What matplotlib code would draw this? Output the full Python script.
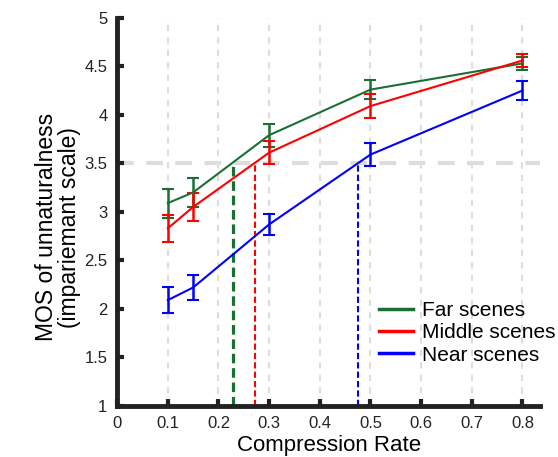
import matplotlib
matplotlib.use("Agg")
import matplotlib.pyplot as plt

plt.rcParams['font.family'] = ['Liberation Sans', 'DejaVu Sans']

x = [0.1, 0.15, 0.3, 0.5, 0.8]
far = [3.09, 3.20, 3.79, 4.26, 4.53]
far_err = [0.15, 0.15, 0.12, 0.10, 0.07]
middle = [2.83, 3.05, 3.61, 4.09, 4.56]
middle_err = [0.14, 0.14, 0.12, 0.12, 0.07]
near = [2.09, 2.22, 2.87, 3.59, 4.25]
near_err = [0.13, 0.13, 0.11, 0.12, 0.10]
thresholds = {'far': 0.228, 'middle': 0.272, 'near': 0.475}
xticks = [0, 0.1, 0.2, 0.3, 0.4, 0.5, 0.6, 0.7, 0.8]
yticks = [1, 1.5, 2, 2.5, 3, 3.5, 4, 4.5, 5]
ref_level = 3.5

c_far = '#1a7033'
c_mid = '#ff0000'
c_near = '#0000ff'

fig = plt.figure(figsize=(5.58, 4.57), dpi=100)
ax = fig.add_axes([0.21, 0.112, 0.758, 0.849])

for xt in xticks[1:]:
    ax.axvline(xt, color='#dddddd', lw=1.5, ls=(0, (3, 3)), zorder=0)
ax.axhline(ref_level, color='#dddddd', lw=3, ls=(0, (4, 3)), zorder=0)

for series, err, col, lab in [(far, far_err, c_far, 'Far scenes'),
                              (middle, middle_err, c_mid, 'Middle scenes'),
                              (near, near_err, c_near, 'Near scenes')]:
    ax.errorbar(x, series, yerr=err, color=col, lw=1.5, capsize=4, capthick=1.5,
                elinewidth=1.8, label=lab, zorder=3)

for key, col in [('far', c_far), ('middle', c_mid), ('near', c_near)]:
    lw = 2.3 if key == 'far' else 1.5
    ax.plot([thresholds[key], thresholds[key]], [1, ref_level], color=col, lw=lw,
            ls=(0, (3, 1.5)), zorder=2)

ax.set_xlim(0, 0.835)
ax.set_ylim(1, 5)
ax.set_xticks(xticks)
ax.set_xticklabels(['0', '0.1', '0.2', '0.3', '0.4', '0.5', '0.6', '0.7', '0.8'])
ax.set_yticks(yticks)
ax.set_yticklabels(['1', '1.5', '2', '2.5', '3', '3.5', '4', '4.5', '5'])
ax.tick_params(direction='in', length=5, width=3, labelsize=12, colors='#222222', pad=7)
for s in ['top', 'right']:
    ax.spines[s].set_visible(False)
for s in ['left', 'bottom']:
    ax.spines[s].set_linewidth(3.5)
    ax.spines[s].set_color('#222222')

ax.set_xlabel('Compression Rate', fontsize=16, labelpad=3)
ax.set_ylabel('MOS of unnaturalness\n(impariemant scale)', fontsize=16.5, linespacing=1.0)
ax.yaxis.set_label_coords(-0.085, 0.46)

handles = [plt.Line2D([], [], color=c, lw=2.5) for c in (c_far, c_mid, c_near)]
ax.legend(handles, ['Far scenes', 'Middle scenes', 'Near scenes'], loc='lower left',
          bbox_to_anchor=(0.6, 0.085), frameon=False, fontsize=15, handlelength=1.6,
          handletextpad=0.45, labelspacing=0.15, borderaxespad=0)

fig.savefig('out.png', dpi=100)
